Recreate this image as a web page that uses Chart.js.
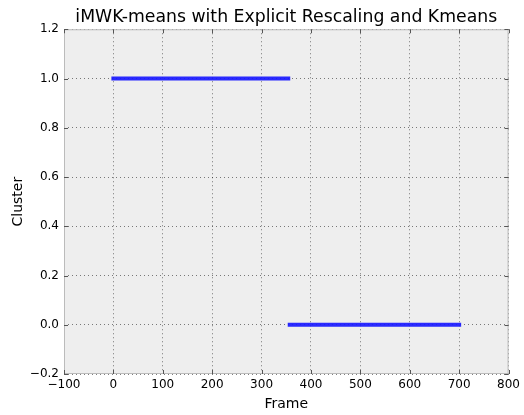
<!DOCTYPE html>
<html>
<head>
<meta charset="utf-8">
<script src="https://cdn.jsdelivr.net/npm/chart.js@4/dist/chart.umd.min.js"></script>
<style>
  html, body { margin: 0; padding: 0; background: #ffffff; }
  #wrap { width: 524px; height: 415px; }
</style>
</head>
<body>
<div id="wrap"><canvas id="c" width="524" height="415"></canvas></div>
<script>
// Cluster assignment per run of frames
const segmentStart = [0, 357];
const segmentEnd = [354, 700];
const segmentCluster = [1, 0];

// Axis ticks
const xTicks = [-100, 0, 100, 200, 300, 400, 500, 600, 700, 800];
const yTicks = [-0.2, 0.0, 0.2, 0.4, 0.6, 0.8, 1.0, 1.2];

const FONT = "'DejaVu Sans', sans-serif";

const datasets = segmentStart.map((s, i) => ({
  data: [{ x: s, y: segmentCluster[i] }, { x: segmentEnd[i], y: segmentCluster[i] }],
  borderColor: 'rgba(25,25,255,0.92)',
  borderWidth: 4,
  borderCapStyle: 'square',
  pointRadius: 0,
  fill: false,
  tension: 0
}));

const fmtNum = (v, d) => {
  const s = Math.abs(v).toFixed(d);
  return v < -1e-9 ? '\u2212' + s : s;
};

// Plot background, light frame and inward tick marks on all four sides
const frame = {
  id: 'frame',
  beforeDraw(chart) {
    const { ctx, chartArea: a } = chart;
    ctx.save();
    ctx.fillStyle = '#eeeeee';
    ctx.fillRect(a.left, a.top, a.right - a.left, a.bottom - a.top);
    ctx.restore();
  },
  afterDatasetsDraw(chart) {
    const { ctx, chartArea: a, scales } = chart;
    ctx.save();
    ctx.strokeStyle = '#bbbbbb';
    ctx.lineWidth = 1;
    ctx.strokeRect(a.left + 0.5, a.top + 0.5, a.right - a.left - 1, a.bottom - a.top - 1);
    ctx.strokeStyle = '#555555';
    ctx.beginPath();
    xTicks.forEach(v => {
      const px = Math.round(scales.x.getPixelForValue(v)) + 0.5;
      ctx.moveTo(px, a.bottom); ctx.lineTo(px, a.bottom - 4);
      ctx.moveTo(px, a.top); ctx.lineTo(px, a.top + 4);
    });
    yTicks.forEach(v => {
      const py = Math.round(scales.y.getPixelForValue(v)) + 0.5;
      ctx.moveTo(a.left, py); ctx.lineTo(a.left + 4, py);
      ctx.moveTo(a.right, py); ctx.lineTo(a.right - 4, py);
    });
    ctx.stroke();
    ctx.restore();
  }
};

const gridStyle = {
  color: 'rgba(0,0,0,0.5)',
  lineWidth: 1,
  drawTicks: false,
  tickLength: 0
};

new Chart(document.getElementById('c'), {
  type: 'line',
  data: { datasets },
  plugins: [frame],
  options: {
    responsive: false,
    animation: false,
    devicePixelRatio: 1,
    layout: { padding: { left: 0, right: 13, top: 0, bottom: 0 } },
    plugins: {
      legend: { display: false },
      tooltip: { enabled: false },
      title: {
        display: true,
        fullSize: false,
        text: 'iMWK-means with Explicit Rescaling and Kmeans',
        color: '#000000',
        font: { family: FONT, size: 17.3, weight: 'normal' },
        padding: { top: 7, bottom: 1.5 }
      }
    },
    scales: {
      x: {
        type: 'linear',
        min: -100,
        max: 800,
        afterBuildTicks(scale) { scale.ticks = xTicks.map(v => ({ value: v })); },
        afterFit(scale) { scale.height = 41; },
        grid: gridStyle,
        border: { display: false, dash: [1, 3] },
        ticks: {
          color: '#000000',
          font: { family: FONT, size: 12 },
          padding: 4,
          maxRotation: 0,
          autoSkip: false,
          callback: v => fmtNum(v, 0)
        },
        title: {
          display: true,
          text: 'Frame',
          color: '#000000',
          font: { family: FONT, size: 14 },
          padding: { top: 0, bottom: 2 }
        }
      },
      y: {
        type: 'linear',
        min: -0.2,
        max: 1.2,
        afterBuildTicks(scale) { scale.ticks = yTicks.map(v => ({ value: v })); },
        afterFit(scale) { scale.width = 64; },
        grid: gridStyle,
        border: { display: false, dash: [1, 3] },
        ticks: {
          color: '#000000',
          font: { family: FONT, size: 12 },
          padding: 5,
          autoSkip: false,
          callback: v => fmtNum(v, 1)
        },
        title: {
          display: true,
          text: 'Cluster',
          color: '#000000',
          font: { family: FONT, size: 14 },
          padding: { top: 10, bottom: 0 }
        }
      }
    }
  }
});
</script>
</body>
</html>
